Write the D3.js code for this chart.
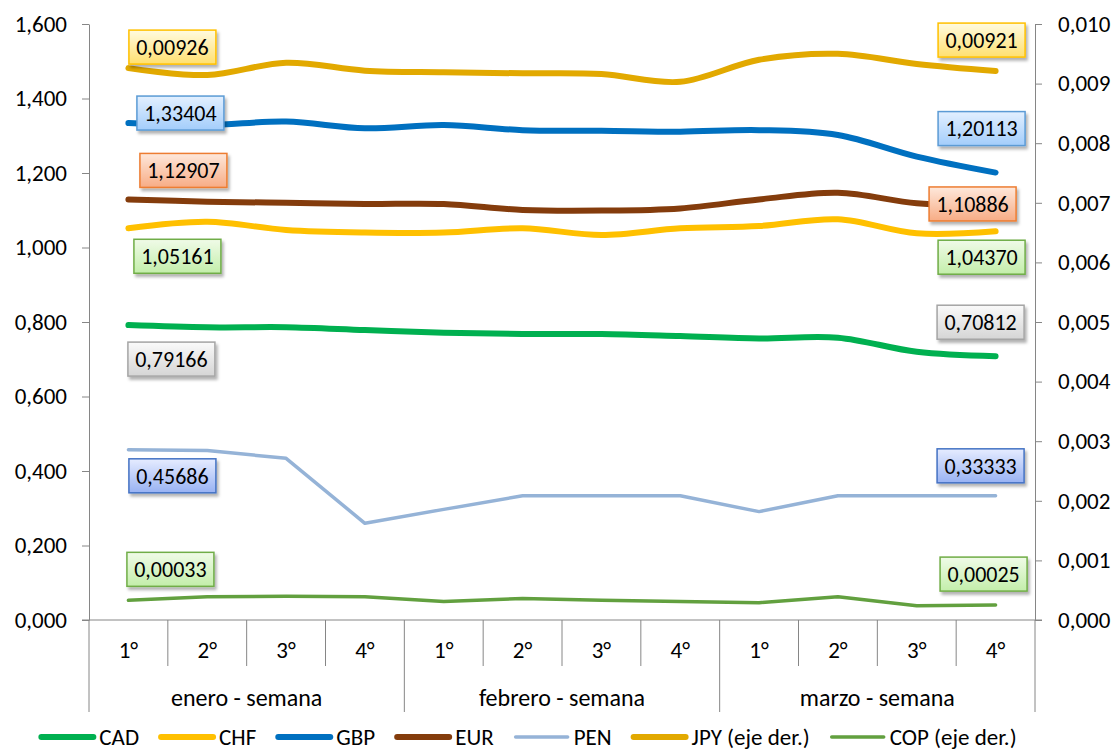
<!DOCTYPE html>
<meta charset="utf-8">
<style>
  body {
    margin: 0;
    overflow: hidden;
    background: #fff;
  }
  text {
    font-family: Carlito, Calibri, Lato, sans-serif;
    fill: #000;
  }
  .domain, .tick line, .sep {
    stroke: #868686;
    stroke-width: 1;
  }
</style>
<body>
</body>
<script src="https://cdn.jsdelivr.net/npm/d3@7"></script>
<script>

// --- data ---
var weeks = ["1°", "2°", "3°", "4°", "1°", "2°", "3°", "4°", "1°", "2°", "3°", "4°"];
var months = ["enero - semana", "febrero - semana", "marzo - semana"];

var cad = [0.79166, 0.7857, 0.7860, 0.7785, 0.7713, 0.7678, 0.7678, 0.7624, 0.7560, 0.7580, 0.7200, 0.70812];
var chf = [1.05161, 1.0690, 1.0470, 1.0400, 1.0400, 1.0515, 1.0336, 1.0515, 1.0577, 1.0757, 1.0380, 1.04370];
var gbp = [1.33404, 1.3289, 1.3380, 1.3200, 1.3290, 1.3150, 1.3136, 1.3110, 1.3150, 1.3020, 1.2440, 1.20113];
var eur = [1.12907, 1.1230, 1.1200, 1.1168, 1.1168, 1.1007, 1.0990, 1.1050, 1.1290, 1.1470, 1.1186, 1.10886];
var pen = [0.45686, 0.4550, 0.4340, 0.2595, 0.2970, 0.33333, 0.33333, 0.33333, 0.2910, 0.33333, 0.33333, 0.33333];
var jpy = [0.00926, 0.009144, 0.00935, 0.009217, 0.00919, 0.009173, 0.00916, 0.00903, 0.00940, 0.00950, 0.00933, 0.00921];
var cop = [0.00033, 0.00039, 0.00040, 0.00039, 0.00031, 0.00036, 0.00033, 0.00031, 0.00029, 0.00039, 0.00024, 0.00025];

var leftTicks = [0, 0.2, 0.4, 0.6, 0.8, 1.0, 1.2, 1.4, 1.6];
var rightTicks = [0, 0.001, 0.002, 0.003, 0.004, 0.005, 0.006, 0.007, 0.008, 0.009, 0.010];

var legendNames = ["CAD", "CHF", "GBP", "EUR", "PEN", "JPY (eje der.)", "COP (eje der.)"];

// --- styles ---
var series = [
  {name: "CAD", values: cad, axis: "left",  color: "#00B050", width: 6,   smooth: true,  box: "gray"},
  {name: "CHF", values: chf, axis: "left",  color: "#FFC000", width: 6,   smooth: true,  box: "green"},
  {name: "GBP", values: gbp, axis: "left",  color: "#0070C0", width: 6,   smooth: true,  box: "sky"},
  {name: "EUR", values: eur, axis: "left",  color: "#843C0C", width: 6,   smooth: true,  box: "orange"},
  {name: "PEN", values: pen, axis: "left",  color: "#95B3D7", width: 3.5, smooth: false, box: "blue"},
  {name: "JPY", values: jpy, axis: "right", color: "#E2A900", width: 6,   smooth: true,  box: "yellow"},
  {name: "COP", values: cop, axis: "right", color: "#62A03F", width: 3.5, smooth: false, box: "green"}
];

// offsets of the label box centre from its data point [start dx, dy, end dx, dy]
var labelOffsets = {
  CAD: [43, 34, -15, -34],
  CHF: [49, 28, -14, 26],
  GBP: [52, -10, -14, -44],
  EUR: [55, -29, -23, -3],
  PEN: [44, 26, -15, -30],
  JPY: [44, -21, -14, -31],
  COP: [42, -31, -12, -31]
};

var boxStyles = {
  yellow: {top: "#FFFBE0", bottom: "#FFE070", stroke: "#FFC000"},
  sky:    {top: "#E3F0FF", bottom: "#A3CDFB", stroke: "#5B9BD5"},
  orange: {top: "#FEE8DB", bottom: "#F7AC85", stroke: "#ED7D31"},
  green:  {top: "#F0FBE8", bottom: "#C3EEAA", stroke: "#70AD47"},
  gray:   {top: "#FAFAFA", bottom: "#D5D5D5", stroke: "#A5A5A5"},
  blue:   {top: "#E6ECFF", bottom: "#98B2F3", stroke: "#4472C4"}
};

var width = 1116,
    height = 751,
    margin = {top: 24, right: 81, bottom: 131, left: 89};

var plotW = width - margin.left - margin.right,
    plotH = height - margin.top - margin.bottom;

var locale = d3.formatLocale({decimal: ",", thousands: ".", grouping: [3], currency: ["$", ""]});
var fmtAxis = locale.format(".3f"),
    fmtLabel = locale.format(".5f");

var x = d3.scaleBand().domain(d3.range(weeks.length)).range([0, plotW]);
var yLeft = d3.scaleLinear().domain([0, 1.6]).range([plotH, 0]);
var yRight = d3.scaleLinear().domain([0, 0.010]).range([plotH, 0]);

var svg = d3.select("body").append("svg")
    .attr("width", width)
    .attr("height", height);

var defs = svg.append("defs");

defs.append("filter")
    .attr("id", "shadow")
    .attr("x", "-20%").attr("y", "-30%")
    .attr("width", "150%").attr("height", "180%")
  .append("feDropShadow")
    .attr("dx", 2)
    .attr("dy", 3)
    .attr("stdDeviation", 1.8)
    .attr("flood-color", "#000")
    .attr("flood-opacity", 0.3);

Object.keys(boxStyles).forEach(function(k) {
  var g = defs.append("linearGradient")
      .attr("id", "grad-" + k)
      .attr("x1", 0).attr("y1", 0)
      .attr("x2", 0).attr("y2", 1);
  g.append("stop").attr("offset", "0%").attr("stop-color", boxStyles[k].top);
  g.append("stop").attr("offset", "100%").attr("stop-color", boxStyles[k].bottom);
});

var chart = svg.append("g")
    .attr("transform", "translate(" + margin.left + "," + margin.top + ")");

// left axis
chart.append("g")
    .attr("class", "axis")
    .call(d3.axisLeft(yLeft).tickValues(leftTicks).tickFormat(fmtAxis)
      .tickSizeInner(7).tickSizeOuter(0).tickPadding(15))
    .call(function(g) { g.selectAll("text").style("font-size", "23px"); });

// right axis
chart.append("g")
    .attr("class", "axis")
    .attr("transform", "translate(" + plotW + ",0)")
    .call(d3.axisRight(yRight).tickValues(rightTicks).tickFormat(fmtAxis)
      .tickSizeInner(7).tickSizeOuter(0).tickPadding(16))
    .call(function(g) { g.selectAll("text").style("font-size", "23px"); });

// category axis
chart.append("line")
    .attr("class", "sep")
    .attr("x1", -7)
    .attr("x2", plotW + 7)
    .attr("y1", plotH)
    .attr("y2", plotH);

chart.append("g").selectAll("line")
    .data(d3.range(weeks.length + 1))
  .enter().append("line")
    .attr("class", "sep")
    .attr("x1", d => d < weeks.length ? x(d) : plotW)
    .attr("x2", d => d < weeks.length ? x(d) : plotW)
    .attr("y1", plotH)
    .attr("y2", d => d % 4 === 0 ? plotH + 92 : plotH + 46);

chart.append("g").selectAll("text")
    .data(weeks)
  .enter().append("text")
    .attr("x", (d, i) => x(i) + x.bandwidth() / 2)
    .attr("y", plotH + 30)
    .attr("dy", "0.35em")
    .attr("text-anchor", "middle")
    .style("font-size", "23px")
    .text(d => d);

chart.append("g").selectAll("text")
    .data(months)
  .enter().append("text")
    .attr("x", (d, i) => (x(i * 4) + (i * 4 + 4 < weeks.length ? x(i * 4 + 4) : plotW)) / 2)
    .attr("y", plotH + 78)
    .attr("dy", "0.35em")
    .attr("text-anchor", "middle")
    .style("font-size", "24px")
    .text(d => d);

// lines
function lineFor(s) {
  var yScale = s.axis === "left" ? yLeft : yRight;
  return d3.line()
      .curve(s.smooth ? d3.curveCatmullRom.alpha(0) : d3.curveLinear)
      .x((d, i) => x(i) + x.bandwidth() / 2)
      .y(d => yScale(d));
}

chart.append("g").selectAll("path")
    .data(series)
  .enter().append("path")
    .attr("d", s => lineFor(s)(s.values))
    .style("fill", "none")
    .style("stroke", s => s.color)
    .style("stroke-width", s => s.width)
    .style("stroke-linecap", "round")
    .style("stroke-linejoin", "round");

// data labels (first and last point)
var labels = [];
series.forEach(function(s) {
  var off = labelOffsets[s.name];
  var yScale = s.axis === "left" ? yLeft : yRight;
  var last = s.values.length - 1;
  labels.push({s: s, cx: x(0) + x.bandwidth() / 2 + off[0], cy: yScale(s.values[0]) + off[1], v: s.values[0]});
  labels.push({s: s, cx: x(last) + x.bandwidth() / 2 + off[2], cy: yScale(s.values[last]) + off[3], v: s.values[last]});
});

var lab = chart.append("g").selectAll("g")
    .data(labels)
  .enter().append("g")
    .attr("transform", d => "translate(" + d.cx + "," + d.cy + ")");

lab.append("rect")
    .attr("x", -43.5)
    .attr("y", -17)
    .attr("width", 87)
    .attr("height", 34)
    .style("fill", d => "url(#grad-" + d.s.box + ")")
    .style("stroke", d => boxStyles[d.s.box].stroke)
    .style("stroke-width", 1.5)
    .style("filter", "url(#shadow)");

lab.append("text")
    .attr("text-anchor", "middle")
    .attr("dy", "0.35em")
    .style("font-size", "22px")
    .text(d => fmtLabel(d.v));

// legend
var legend = svg.append("g")
    .attr("transform", "translate(0,737)");

var item = legend.selectAll("g")
    .data(series)
  .enter().append("g");

item.append("line")
    .attr("x1", 0)
    .attr("x2", 52)
    .style("stroke", s => s.color)
    .style("stroke-width", s => s.smooth ? 6 : 3.5)
    .style("stroke-linecap", "round");

item.append("text")
    .attr("x", 58)
    .attr("dy", "0.35em")
    .style("font-size", "23px")
    .text((s, i) => legendNames[i]);

var pos = 0, offsets = [];
item.each(function() {
  offsets.push(pos);
  pos += 58 + d3.select(this).select("text").node().getComputedTextLength() + 22;
});
var legendStart = 529 - (pos - 22) / 2;
item.attr("transform", (s, i) => "translate(" + (legendStart + offsets[i]) + ",0)");

</script>
